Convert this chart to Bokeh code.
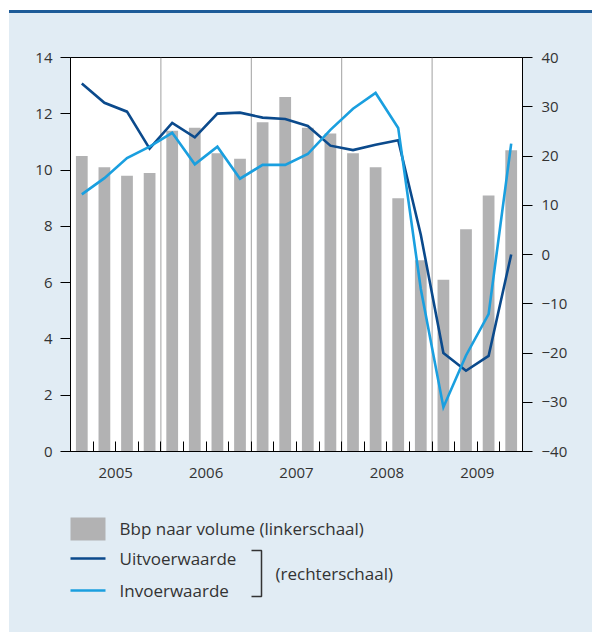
from bokeh.plotting import figure
from bokeh.models import Range1d, LinearAxis, FixedTicker, CustomJSTickFormatter, Div
from bokeh.layouts import column
from bokeh.embed import file_html
from bokeh.resources import INLINE
from bokeh.core.properties import value

# ---- data ----
bbp = [10.5, 10.1, 9.8, 9.9, 11.4, 11.5, 10.6, 10.4, 11.7, 12.6,
       11.5, 11.3, 10.6, 10.1, 9.0, 6.8, 6.1, 7.9, 9.1, 10.7]
uitvoer = [34.7, 30.8, 29.0, 21.5, 26.7, 23.8, 28.6, 28.8, 27.8, 27.5,
           26.1, 22.1, 21.2, 22.3, 23.2, 4.0, -20.0, -23.6, -20.6, 0.0]
invoer = [12.2, 15.5, 19.6, 21.9, 24.7, 18.3, 21.9, 15.4, 18.2, 18.2,
          20.4, 25.3, 29.6, 32.8, 25.7, -7.0, -31.0, -20.5, -12.1, 22.5]
years = ["2005", "2006", "2007", "2008", "2009"]
left_ticks = [0, 2, 4, 6, 8, 10, 12, 14]
right_ticks = [-40, -30, -20, -10, 0, 10, 20, 30, 40]
legend_labels = ["Bbp naar volume (linkerschaal)", "Uitvoerwaarde", "Invoerwaarde", "(rechterschaal)"]

BG = "#e1ecf4"
DARK = "#0b4a8c"
LIGHT = "#1a9fdf"
BAR = "#b2b2b3"
TXT = "#333333"
FONT = "Open Sans"

n = len(bbp)
xs = [i + 0.5 for i in range(n)]
year_pos = [4 * k + 2 for k in range(len(years))]
year_bounds = [4 * k for k in range(1, len(years))]

# ---- top rule ----
rule = Div(text="", width=583, height=3, margin=0,
           styles={"background-color": "#1d5b98", "display": "block"})

# ---- main chart ----
p = figure(width=583, height=482, output_backend="svg", toolbar_location=None,
           x_range=Range1d(0, n), y_range=Range1d(0, 14),
           min_border_left=61, min_border_right=70, min_border_top=44, min_border_bottom=44,
           background_fill_color="white", border_fill_color=BG, margin=0)
p.outline_line_color = "black"
p.outline_line_width = 1
p.grid.visible = False
p.extra_y_ranges = {"right": Range1d(-40, 40)}

# left axis
ya = p.yaxis[0]
ya.ticker = FixedTicker(ticks=left_ticks, minor_ticks=[])
ya.major_tick_out = 10
ya.major_tick_in = 0
ya.major_label_standoff = 8
ya.axis_line_color = "black"
ya.major_tick_line_color = "black"
ya.major_label_text_font = FONT
ya.major_label_text_font_size = "15px"
ya.major_label_text_color = TXT

# right axis
ra = LinearAxis(y_range_name="right")
ra.ticker = FixedTicker(ticks=right_ticks, minor_ticks=[])
ra.formatter = CustomJSTickFormatter(code="return tick < 0 ? '\u2212' + (-tick) : String(tick);")
ra.major_tick_out = 10
ra.major_tick_in = 0
ra.major_label_standoff = 9
ra.axis_line_color = "black"
ra.major_tick_line_color = "black"
ra.major_label_text_font = FONT
ra.major_label_text_font_size = "15px"
ra.major_label_text_color = TXT
p.add_layout(ra, "right")

# bottom axis
xa = p.xaxis[0]
xa.ticker = FixedTicker(ticks=year_pos, minor_ticks=list(range(1, n)))
xa.major_label_overrides = {yp: yr for yp, yr in zip(year_pos, years)}
xa.major_tick_in = 0
xa.major_tick_out = 0
xa.minor_tick_in = 10
xa.minor_tick_out = 0
xa.minor_tick_line_color = "black"
xa.axis_line_color = "black"
xa.major_label_standoff = 16
xa.major_label_text_font = FONT
xa.major_label_text_font_size = "15px"
xa.major_label_text_color = TXT

# year separators
p.segment(x0=year_bounds, x1=year_bounds, y0=[0] * len(year_bounds), y1=[14] * len(year_bounds),
          line_color="#a0a0a0", line_width=1)

p.vbar(x=xs, top=bbp, width=0.52, bottom=0, fill_color=BAR, line_color=None)
p.line(x=xs, y=uitvoer, y_range_name="right", line_color=DARK, line_width=2.6, line_join="miter")
p.line(x=xs, y=invoer, y_range_name="right", line_color=LIGHT, line_width=2.6, line_join="miter")

# ---- legend panel (frame is aligned with the chart frame: page x 70..522) ----
lg = figure(width=583, height=137, output_backend="svg", toolbar_location=None,
            x_axis_type=None, y_axis_type=None, min_border=0,
            min_border_left=0, min_border_right=0, min_border_top=0, min_border_bottom=0,
            x_range=Range1d(70, 522), y_range=Range1d(632, 495),
            background_fill_color=BG, border_fill_color=BG, margin=0)
lg.outline_line_color = None
lg.grid.visible = False

lg.quad(left=[69], right=[105], top=[517], bottom=[540], fill_color=BAR, line_color=None)
lg.segment(x0=[69], x1=[105], y0=[558], y1=[558], line_color=DARK, line_width=2.6)
lg.segment(x0=[69], x1=[105], y0=[590], y1=[590], line_color=LIGHT, line_width=2.6)
# bracket
lg.line(x=[251, 261, 261, 251], y=[550, 550, 596, 596], line_color=TXT, line_width=1.5)

lg.text(x=[119, 119, 119, 275], y=[528, 558, 590, 573], text=legend_labels,
        text_font=value(FONT), text_font_size="17px", text_color=TXT,
        text_baseline="middle", text_align="left")

layout = column(rule, p, lg, spacing=0, margin=(10, 0, 0, 9),
                styles={"background-color": BG})

open("out.html", "w").write(file_html(layout, INLINE))
